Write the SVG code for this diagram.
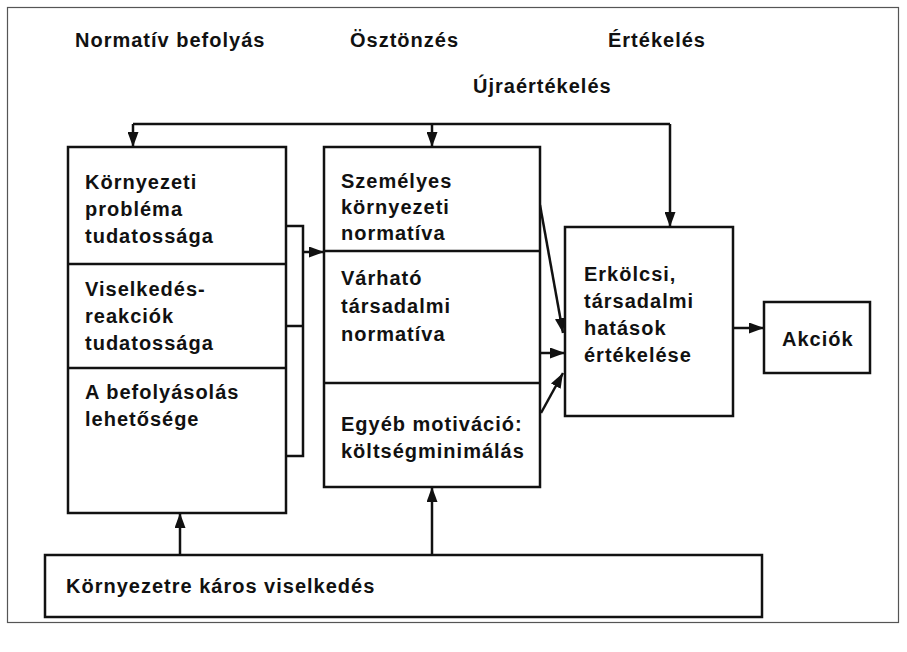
<svg xmlns="http://www.w3.org/2000/svg" width="907" height="652" viewBox="0 0 907 652">
<style>
text{font-family:"Liberation Sans",Arial,sans-serif;font-weight:bold;font-size:20px;fill:#111;letter-spacing:1px}
.box{fill:#fff;stroke:#111;stroke-width:2.5}
.ln{fill:none;stroke:#111;stroke-width:2.5}
.con{fill:none;stroke:#111;stroke-width:2.5}
</style>
<defs>
<marker id="ah" viewBox="0 0 15 11" refX="15" refY="5.5" markerWidth="15" markerHeight="11" markerUnits="userSpaceOnUse" orient="auto">
<path d="M0,0 L15,5.5 L0,11 Z" fill="#111"/>
</marker>
</defs>
<rect x="0" y="0" width="907" height="652" fill="#fff"/>
<rect x="7.5" y="7.5" width="891" height="615" fill="none" stroke="#555" stroke-width="1.2"/>
<g id="headers">
<text x="75" y="47">Normatív befolyás</text>
<text x="350" y="47">Ösztönzés</text>
<text x="608" y="47">Értékelés</text>
<text x="473" y="93">Újraértékelés</text>
</g>
<g id="connectors">
<path class="con" d="M133,124 H670"/>
<path class="con" d="M133,124 V147" marker-end="url(#ah)"/>
<path class="con" d="M432,124 V147" marker-end="url(#ah)"/>
<path class="con" d="M670,124 V227" marker-end="url(#ah)"/>
<path class="con" d="M286,226 H303 V456 H286 M286,326 H303"/>
<path class="con" d="M303,252 H324" marker-end="url(#ah)"/>
<path class="con" d="M540,205 L563,333" marker-end="url(#ah)"/>
<path class="con" d="M540,353 H565" marker-end="url(#ah)"/>
<path class="con" d="M541,413 L563,373" marker-end="url(#ah)"/>
<path class="con" d="M733,328 H764" marker-end="url(#ah)"/>
<path class="con" d="M180,555 V513" marker-end="url(#ah)"/>
<path class="con" d="M432,555 V487" marker-end="url(#ah)"/>
</g>
<g id="node-left">
<rect class="box" x="68" y="147" width="218" height="366"/>
<path class="ln" d="M68,264 H286 M68,368 H286"/>
<text x="85" y="189">Környezeti</text>
<text x="85" y="216">probléma</text>
<text x="85" y="243">tudatossága</text>
<text x="85" y="296">Viselkedés-</text>
<text x="85" y="323">reakciók</text>
<text x="85" y="350">tudatossága</text>
<text x="85" y="399">A befolyásolás</text>
<text x="85" y="426">lehetősége</text>
</g>
<g id="node-middle">
<rect class="box" x="324" y="147" width="216" height="340"/>
<path class="ln" d="M324,251 H540 M324,383 H540"/>
<text x="341" y="188">Személyes</text>
<text x="341" y="214">környezeti</text>
<text x="341" y="240">normatíva</text>
<text x="341" y="285">Várható</text>
<text x="341" y="313">társadalmi</text>
<text x="341" y="341">normatíva</text>
<text x="341" y="431">Egyéb motiváció:</text>
<text x="341" y="458">költségminimálás</text>
</g>
<g id="node-eval">
<rect class="box" x="565" y="227" width="168" height="189"/>
<text x="584" y="281">Erkölcsi,</text>
<text x="584" y="308">társadalmi</text>
<text x="584" y="335">hatások</text>
<text x="584" y="362">értékelése</text>
</g>
<g id="node-action">
<rect class="box" x="764" y="302" width="106" height="71"/>
<text x="782" y="346">Akciók</text>
</g>
<g id="node-bottom">
<rect class="box" x="45" y="555" width="717" height="62"/>
<text x="66" y="593">Környezetre káros viselkedés</text>
</g>
</svg>
